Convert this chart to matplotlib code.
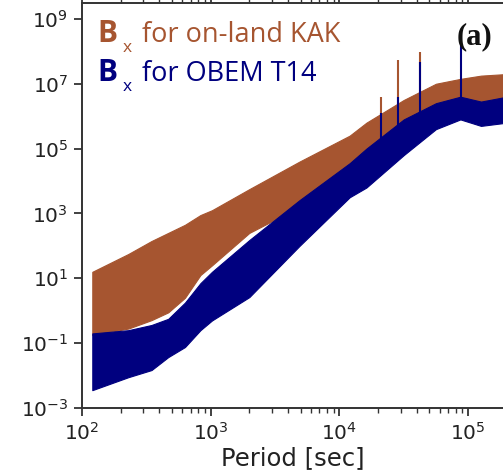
import numpy as np
import matplotlib
matplotlib.use('Agg')
import matplotlib.pyplot as plt

log_period = [2.08, 2.36, 2.54, 2.67, 2.80, 2.92, 3.01, 3.3, 3.69,
              4.08, 4.21, 4.5, 4.75, 4.94, 5.1, 5.3]

# log10 power, envelope of the on-land KAK spectrum
kak_upper = [1.2, 1.75, 2.15, 2.4, 2.65, 2.95, 3.1, 3.75, 4.6,
             5.4, 5.8, 6.5, 7.0, 7.15, 7.25, 7.3]
kak_lower = [-0.75, -0.55, -0.29, -0.05, 0.4, 1.1, 1.4, 2.4, 3.2,
             4.2, 4.5, 5.3, 5.8, 6.0, 6.1, 6.2]

# log10 power, envelope of the OBEM T14 spectrum
obem_upper = [-0.7, -0.6, -0.44, -0.25, 0.25, 0.85, 1.2, 2.18, 3.41,
              4.55, 5.0, 5.9, 6.4, 6.6, 6.45, 6.6]
obem_lower = [-2.45, -2.05, -1.83, -1.43, -1.12, -0.6, -0.3, 0.42, 2.0,
              3.5, 3.8, 4.8, 5.6, 5.9, 5.7, 5.8]

# narrow spectral lines sticking out of the bands (log10 power)
kak_spike_period = [2.1e4, 2.87e4, 4.26e4]
kak_spike_base = [6.0, 6.3, 6.6]
kak_spike_top = [6.6, 7.73, 7.98]
obem_spike_period = [2.1e4, 2.87e4, 4.26e4, 8.8e4]
obem_spike_base = [5.3, 5.6, 5.9, 6.5]
obem_spike_top = [6.1, 6.6, 7.67, 8.26]

kak_color = '#A65530'
obem_color = '#00007F'

fig = plt.figure(figsize=(5.03, 4.73), dpi=100)
ax = fig.add_axes([82/503, 65/473, 1 - 82/503, 405/473])

period = 10.0**np.array(log_period)

ax.fill_between(period, 10.0**np.array(kak_lower), 10.0**np.array(kak_upper),
                color=kak_color, lw=0.8)
ax.vlines(kak_spike_period, 10.0**np.array(kak_spike_base),
          10.0**np.array(kak_spike_top), color=kak_color, lw=1.5)
ax.fill_between(period, 10.0**np.array(obem_lower), 10.0**np.array(obem_upper),
                color=obem_color, lw=0.8)
ax.vlines(obem_spike_period, 10.0**np.array(obem_spike_base),
          10.0**np.array(obem_spike_top), color=obem_color, lw=1.5)

ax.set_xscale('log')
ax.set_yscale('log')
ax.set_xlim(1e2, 10**5.271)
ax.set_ylim(1e-3, 10**9.49)

ax.set_yticks([1e-3, 1e-1, 1e1, 1e3, 1e5, 1e7, 1e9])
ax.yaxis.set_minor_locator(matplotlib.ticker.NullLocator())
ax.set_xticks([1e2, 1e3, 1e4, 1e5])

for s in ['left', 'bottom', 'top']:
    ax.spines[s].set_linewidth(1.4)
    ax.spines[s].set_color('#333333')
ax.spines['right'].set_visible(False)

ax.tick_params(which='major', length=6, width=1.3, labelsize=14.5,
               colors='#333333', labelcolor='#222222', pad=4)
ax.tick_params(which='minor', length=3.5, width=1.0, colors='#333333')
ax.tick_params(axis='x', which='both', top=True, labeltop=False)
ax.tick_params(axis='x', which='both', direction='out')

ax.set_xlabel('Period [sec]', fontsize=17.5, color='#222222', labelpad=2)

# legend-like labels
def px(x, y):
    return x / 503, (473 - y) / 473

for row, (txt, col) in enumerate([('for on-land KAK', kak_color),
                                  ('for OBEM T14', obem_color)]):
    base = 42 + row * 39
    fig.text(*px(97, base), 'B', fontsize=21.5, fontweight='bold',
             family='Open Sans', color=col, va='baseline')
    fig.text(*px(123, base + 10), 'x', fontsize=12.5, family='Open Sans',
             color=col, va='baseline')
    fig.text(*px(142, base), txt, fontsize=19.5, family='Open Sans',
             color=col, va='baseline')

fig.text(*px(457, 44), '(a)', fontsize=22, fontweight='bold',
         family='Liberation Serif', color='#111111', va='baseline')

fig.savefig('out.png', dpi=100)
